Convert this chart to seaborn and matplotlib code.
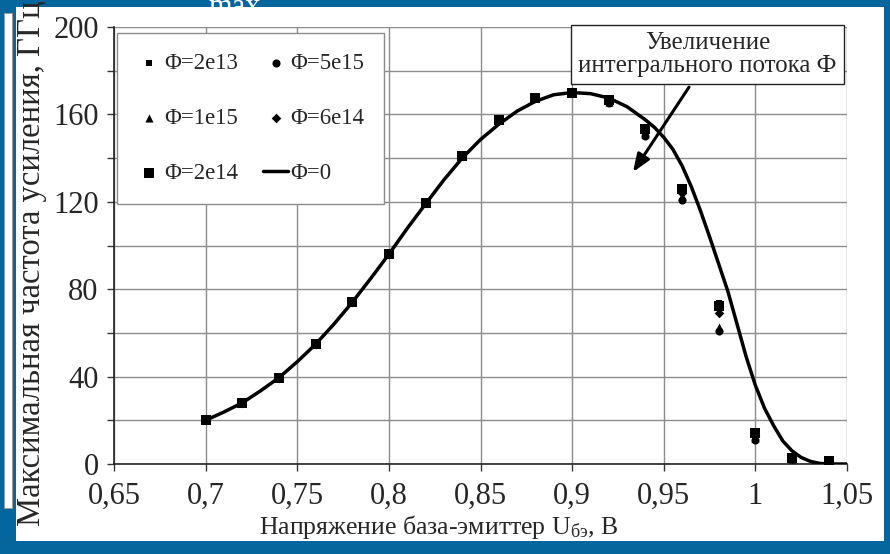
import matplotlib
matplotlib.use("Agg")
import matplotlib.pyplot as plt
from matplotlib.patches import Rectangle
import seaborn as sns

# ---------------- data ----------------
U_pts = [0.70, 0.72, 0.74, 0.76, 0.78, 0.80, 0.82, 0.84, 0.86, 0.88, 0.90,
         0.92, 0.94, 0.96, 0.98, 1.00, 1.02, 1.04]
f_2e13 = [20, 28, 39.5, 54.8, 74, 96, 119.6, 141, 157.5, 167.5, 170,
          167, 154, 127, 73.5, 14.8, 2.8, 1.6]
f_2e14 = [20, 28, 39.5, 54.8, 74, 96, 119.6, 141, 157.5, 167.5, 170,
          166.5, 153.5, 126, 72.5, 14.2, 2.7, 1.5]
f_6e14 = [20, 28, 39.5, 54.8, 74, 96, 119.6, 141, 157.5, 167.5, 170,
          166, 152, 124, 69, 13, 2.6, 1.4]
f_1e15 = [20, 28, 39.5, 54.8, 74, 96, 119.6, 141, 157.5, 167.5, 170,
          165.5, 151, 122.5, 62.5, 12, 2.5, 1.3]
f_5e15 = [20, 28, 39.5, 54.8, 74, 96, 119.6, 141, 157.5, 167.5, 170,
          165, 150, 120.7, 61, 11, 2.4, 1.2]

U_line = [0.70, 0.71, 0.72, 0.73, 0.74, 0.75, 0.76, 0.77, 0.78, 0.79, 0.80,
          0.81, 0.82, 0.83, 0.84, 0.85, 0.86, 0.87, 0.88, 0.89, 0.90, 0.91,
          0.92, 0.93, 0.94, 0.945, 0.95, 0.955, 0.96, 0.965, 0.97, 0.975,
          0.98, 0.985, 0.99, 0.995, 1.00, 1.005, 1.01, 1.015, 1.02, 1.025,
          1.03, 1.035, 1.04, 1.05]
F_line = [20, 23.8, 28, 33.5, 39.5, 46.8, 54.8, 64, 74, 84.8, 96,
          107.8, 119, 130, 140, 148.5, 155.5, 161.5, 166, 169, 170, 169.5,
          167.5, 163.5, 157.5, 154, 149.5, 144, 136.5, 127, 116, 104,
          91.5, 79, 64, 49, 36, 25.5, 17.5, 10.5, 6, 3,
          1.2, 0.3, 0, 0]

x_ticks = [0.65, 0.70, 0.75, 0.80, 0.85, 0.90, 0.95, 1.00, 1.05]
x_ticklabels = ["0,65", "0,7", "0,75", "0,8", "0,85", "0,9", "0,95", "1", "1,05"]
y_ticks = [0, 20, 40, 60, 80, 100, 120, 140, 160, 180, 200]
y_ticklabels = ["0", "", "40", "", "80", "", "120", "", "160", "", "200"]

xlabel = "Напряжение база-эмиттер $\\mathrm{U}_{\\mathrm{бэ}}$, В"
ylabel = "Максимальная частота усиления, ГГц"
note = "Увеличение\nинтегрального потока Ф"

# ---------------- style ----------------
sns.set_theme(style="white")
plt.rcParams["font.family"] = ["Liberation Serif", "DejaVu Serif"]
plt.rcParams["mathtext.fontset"] = "custom"
plt.rcParams["mathtext.rm"] = "Liberation Serif"
plt.rcParams["mathtext.it"] = "Liberation Serif:italic"
plt.rcParams["mathtext.bf"] = "Liberation Serif:bold"

BLUE = "#05669d"
W, H = 890, 554
fig = plt.figure(figsize=(W / 100, H / 100), dpi=100, facecolor=BLUE)

# white slide panel and left strip
fig.patches.append(Rectangle((16 / W, 1 - 541 / H), (884 - 16) / W, (541 - 7) / H,
                             transform=fig.transFigure, facecolor="white",
                             edgecolor="none", zorder=-2))
fig.patches.append(Rectangle((4 / W, 1 - 508 / H), (12.5 - 4) / W, (508 - 13) / H,
                             transform=fig.transFigure, facecolor="white",
                             edgecolor="#9a9a9a", linewidth=0.8, zorder=-2))
fig.text(208 / W, 1 - 15 / H, "max", color="white", fontsize=22,
         ha="left", va="baseline", zorder=-3)

ax = fig.add_axes([114 / W, 1 - 464 / H, (847 - 114) / W, (464 - 27) / H])
ax.set_facecolor("white")

# ---------------- marks ----------------
sns.lineplot(x=U_line, y=F_line, color="black", linewidth=2.5, label="Φ=0",
             ax=ax, zorder=3)
sns.scatterplot(x=U_pts, y=f_5e15, marker="o", s=34, color="black",
                edgecolor="black", linewidth=0, label="Φ=5e15", ax=ax, zorder=4)
sns.scatterplot(x=U_pts, y=f_1e15, marker="^", s=34, color="black",
                edgecolor="black", linewidth=0, label="Φ=1e15", ax=ax, zorder=4)
sns.scatterplot(x=U_pts, y=f_6e14, marker="D", s=24, color="black",
                edgecolor="black", linewidth=0, label="Φ=6e14", ax=ax, zorder=4)
sns.scatterplot(x=U_pts, y=f_2e13, marker="s", s=14, color="black",
                edgecolor="black", linewidth=0, label="Φ=2e13", ax=ax, zorder=4)
sns.scatterplot(x=U_pts, y=f_2e14, marker="s", s=44, color="black",
                edgecolor="black", linewidth=0, label="Φ=2e14", ax=ax, zorder=5)

# ---------------- axes ----------------
ax.set_xlim(0.65, 1.05)
ax.set_ylim(0, 200)
ax.set_xticks(x_ticks)
ax.set_xticklabels(x_ticklabels)
ax.set_yticks(y_ticks)
ax.set_yticklabels(y_ticklabels)
ax.tick_params(axis="both", which="major", labelsize=22, direction="out",
               length=5, width=1, color="#333333")
ax.tick_params(axis="x", bottom=True, pad=8)
ax.tick_params(axis="y", left=True, pad=6)
ax.grid(True, color="#8c8c8c", linewidth=1.0)
ax.set_axisbelow(True)
for s in ["top", "right"]:
    ax.spines[s].set_visible(False)
for s in ["left", "bottom"]:
    ax.spines[s].set_color("#222222")
    ax.spines[s].set_linewidth(1.2)

ax.set_xlabel(xlabel, fontsize=18.5)
ax.xaxis.set_label_coords((438.5 - 114) / 733, (464 - 527) / 437)
ax.set_ylabel(ylabel, fontsize=23.5)
ax.yaxis.set_label_coords((32 - 114) / 733, (464 - 263) / 437)
ax.xaxis.label.set_verticalalignment("center")
ax.yaxis.label.set_verticalalignment("center")

# ---------------- legend ----------------
handles, labels = ax.get_legend_handles_labels()
lookup = dict(zip(labels, handles))
order = ["Φ=2e13", "Φ=1e15", "Φ=2e14", "Φ=5e15", "Φ=6e14", "Φ=0"]
leg = ax.legend([lookup[k] for k in order], order, ncol=2, loc="upper left",
                bbox_to_anchor=(0.004, 0.986), fontsize=16.5, frameon=True,
                fancybox=False, edgecolor="#8c8c8c", framealpha=1,
                handlelength=1.1, handletextpad=0.1, columnspacing=1.1,
                labelspacing=1.5, borderpad=0.85, borderaxespad=0)
leg.get_frame().set_linewidth(1.0)
leg.set_zorder(10)

# ---------------- annotation ----------------
ax.text(0.9739, 187.4, note, fontsize=18, ha="center", va="center",
        linespacing=1.05, zorder=11,
        bbox=dict(boxstyle="square,pad=0.28", facecolor="white",
                  edgecolor="#222222", linewidth=1.0))
ax.annotate("", xy=(0.9332, 133.6), xytext=(0.9638, 172.5),
            arrowprops=dict(arrowstyle="-|>,head_length=0.9,head_width=0.35",
                            color="black", linewidth=2.2, shrinkA=0, shrinkB=0),
            zorder=11)

fig.savefig("out.png", dpi=100, facecolor=BLUE)
